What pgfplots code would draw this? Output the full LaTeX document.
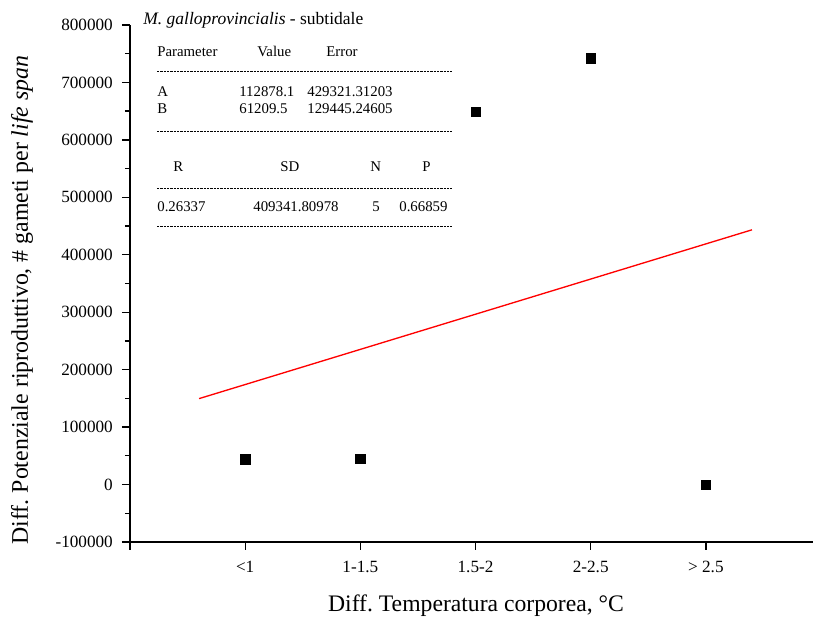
\documentclass[border=0pt]{standalone}
\usepackage{fontspec}
\setmainfont{Liberation Serif}
\usepackage{pgfplots}
\pgfplotsset{compat=1.18}
\frenchspacing
\begin{document}
\begin{tikzpicture}
\begin{axis}[
  name=ax,
  scale only axis,
  width=409.8pt, height=310.2pt,
  xmin=0, xmax=5.93,
  ymin=-100000, ymax=800000,
  axis x line*=bottom, axis y line*=left,
  axis line style={-, line width=1pt, black},
  tick align=outside,
  major tick length=4.8pt,
  minor tick length=3pt,
  tick style={line width=0.8pt, black},
  xtick={0,1,2,3,4,5},
  xticklabels={{},{\textless1},{1-1.5},{1.5-2},{2-2.5},{\textgreater{} 2.5}},
  ytick={-100000,0,100000,200000,300000,400000,500000,600000,700000,800000},
  yticklabels={{-100000},{0},{100000},{200000},{300000},{400000},{500000},{600000},{700000},{800000}},
  minor y tick num=1,
  scaled y ticks=false,
  tick label style={font=\fontsize{10.3}{12}\selectfont},
  xticklabel shift=3pt,
  yticklabel shift=2pt,
  clip=false,
]
\addplot[only marks, mark=square*, mark size=2.8pt, black] coordinates {
  (1,43700) (2,44600) (3,648500) (4,741800) (5,0)
};
\addplot[red, line width=0.8pt] coordinates {(0.6,149603.8) (5.4,443409.4)};
\end{axis}
\begin{scope}[shift={(ax.south west)}]
\begin{scope}[xshift=-78pt, yshift=325.2pt, x=0.6pt, y=-0.6pt]
  % axis labels
  \node[rotate=90, font=\fontsize{14.3}{16}\selectfont] at (22,300) {Diff.\ Potenziale riproduttivo, \# gameti per \textit{life span}};
  \node[font=\fontsize{14.2}{16}\selectfont] at (476,606) {Diff.\ Temperatura corporea, °C};
  % title
  \node[anchor=base west, inner sep=0pt, font=\fontsize{10.5}{12}\selectfont] at (143,25) {\textit{M.\ galloprovincialis} - subtidale};
  % table
  \begin{scope}[every node/.style={anchor=base west, inner sep=0pt, font=\fontsize{8.9}{10}\selectfont}]
    \node at (157,57) {Parameter};
    \node at (257,57) {Value};
    \node at (326,57) {Error};
    \node at (157,97) {A};
    \node at (239,97) {112878.1};
    \node at (307,97) {429321.31203};
    \node at (157,114) {B};
    \node at (239,114) {61209.5};
    \node at (307,114) {129445.24605};
    \node at (173,172) {R};
    \node at (280,172) {SD};
    \node at (370,172) {N};
    \node at (422,172) {P};
    \node at (157,212) {0.26337};
    \node at (253,212) {409341.80978};
    \node at (372,212) {5};
    \node at (399,212) {0.66859};
  \end{scope}
  \begin{scope}[line width=0.5pt, dash pattern=on 1.4pt off 0.6pt]
    \draw (157,71) -- (452,71);
    \draw (157,131) -- (452,131);
    \draw (157,188) -- (452,188);
    \draw (157,226) -- (452,226);
  \end{scope}
  \pgfresetboundingbox
  \path (0,0) rectangle (813,620);
\end{scope}
\end{scope}
\end{tikzpicture}
\end{document}
